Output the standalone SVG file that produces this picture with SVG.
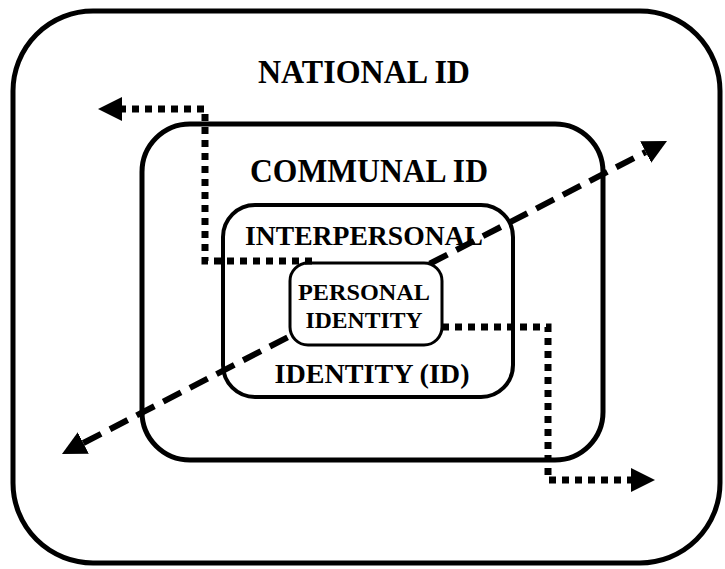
<svg xmlns="http://www.w3.org/2000/svg" width="725" height="569" viewBox="0 0 725 569">
<style>
.box{fill:none;stroke:#000}
.lbl{font-family:"Liberation Serif","Times New Roman",serif;font-weight:bold;fill:#000;text-anchor:middle}
.dash{fill:none;stroke:#000;stroke-width:6;stroke-dasharray:20 10}
.dot{fill:none;stroke:#000;stroke-width:7;stroke-dasharray:7 6}
</style>
<defs>
<marker id="ah" markerUnits="userSpaceOnUse" markerWidth="26" markerHeight="26" refX="0" refY="12" orient="auto-start-reverse">
<path d="M0,0 L24,12 L0,24 z" fill="#000"/>
</marker>
</defs>
<rect width="725" height="569" fill="#fff"/>
<g id="national">
<rect class="box" x="13" y="11" width="707" height="552" rx="80" ry="80" stroke-width="5"/>
<text class="lbl" x="364" y="83" font-size="34" textLength="212" lengthAdjust="spacingAndGlyphs">NATIONAL ID</text>
</g>
<g id="communal">
<rect class="box" x="142" y="124" width="461" height="336" rx="48" ry="48" stroke-width="5"/>
<text class="lbl" x="369" y="182" font-size="33" textLength="238" lengthAdjust="spacingAndGlyphs">COMMUNAL ID</text>
</g>
<g id="interpersonal">
<rect class="box" x="223" y="205" width="290" height="192" rx="32" ry="32" stroke-width="4"/>
<text class="lbl" x="364" y="245" font-size="27" textLength="238" lengthAdjust="spacingAndGlyphs">INTERPERSONAL</text>
<text class="lbl" x="372" y="383" font-size="28" textLength="195" lengthAdjust="spacingAndGlyphs">IDENTITY (ID)</text>
</g>
<g id="connectors-diag">
<path class="dash" d="M83.3,443 L645.7,152" marker-start="url(#ah)" marker-end="url(#ah)"/>
</g>
<g id="personal">
<rect x="290" y="263" width="152" height="82" rx="18" ry="18" fill="#fff" stroke="#000" stroke-width="3"/>
<text class="lbl" x="364" y="300" font-size="24" textLength="132" lengthAdjust="spacingAndGlyphs">PERSONAL</text>
<text class="lbl" x="364" y="328" font-size="24" textLength="117" lengthAdjust="spacingAndGlyphs">IDENTITY</text>
</g>
<g id="connectors">
<path class="dot" d="M312,261 L205,261 L205,109 L122,109" marker-end="url(#ah)"/>
<path class="dot" d="M442,327 L548,327 L548,480 L631,480" marker-end="url(#ah)"/>
</g>
</svg>
